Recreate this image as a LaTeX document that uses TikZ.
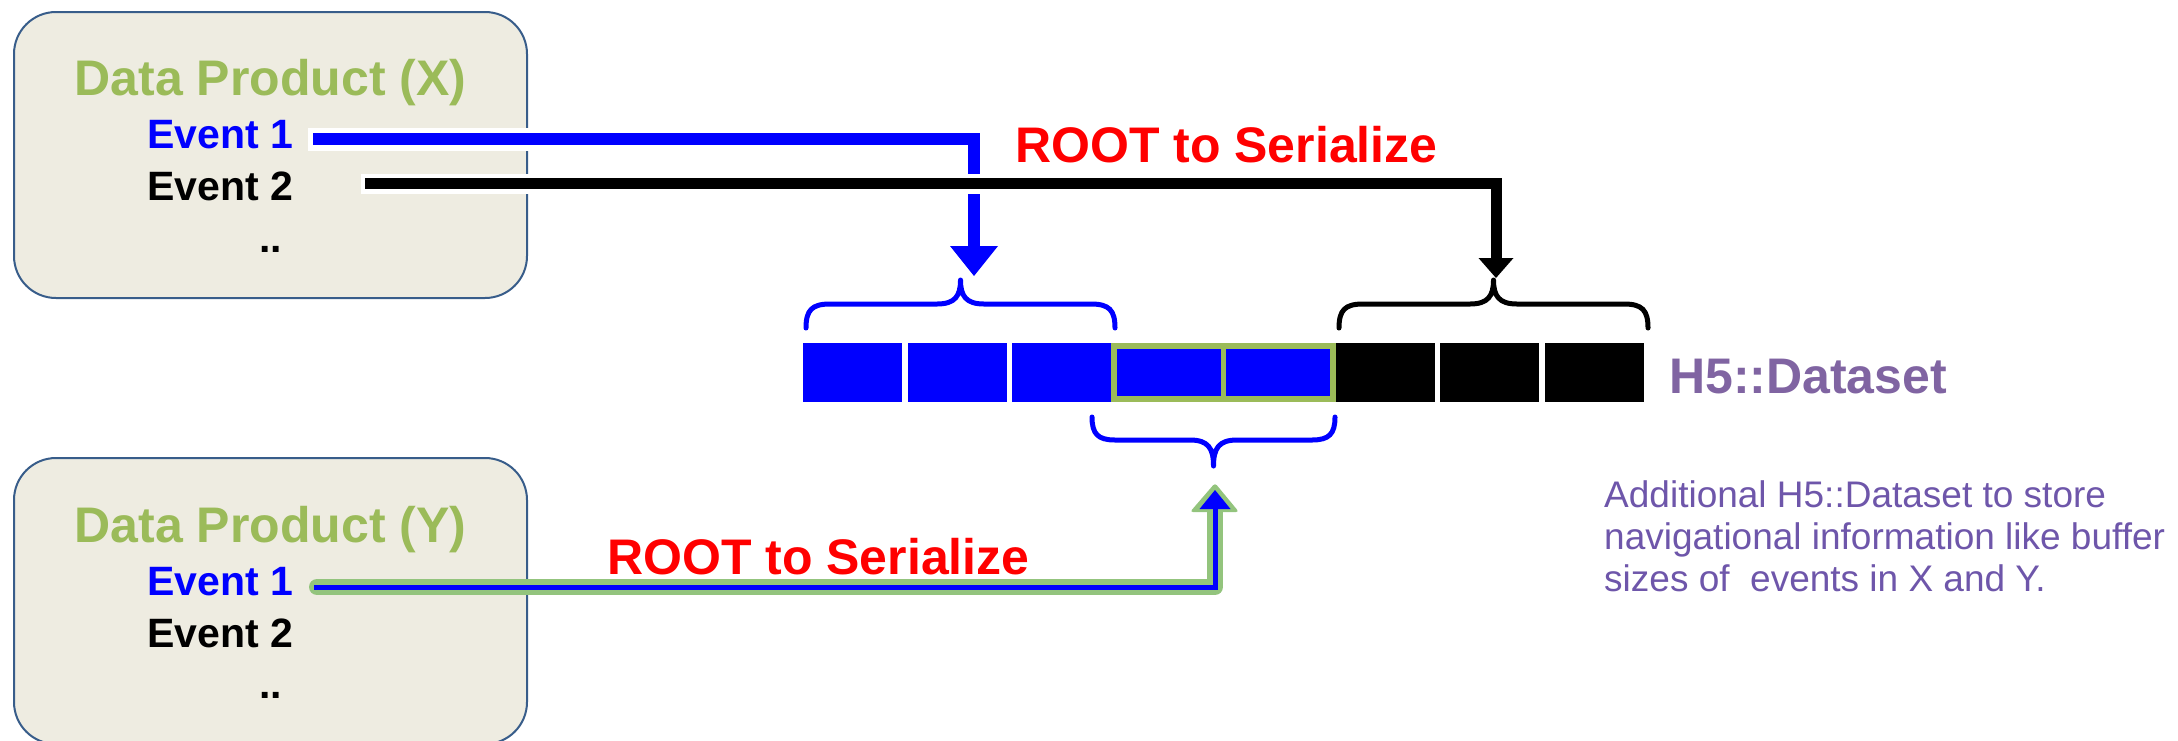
\documentclass[tikz,border=0pt]{standalone}
\usepackage{fontspec}
\setmainfont{Liberation Sans}
\usetikzlibrary{calc}

\definecolor{boxfill}{RGB}{238,236,225}
\definecolor{boxline}{RGB}{56,93,138}
\definecolor{titlegreen}{RGB}{155,187,89}
\definecolor{arrowgreen}{RGB}{147,196,125}
\definecolor{evblue}{RGB}{0,0,255}
\definecolor{rootred}{RGB}{255,0,0}
\definecolor{dsetpurple}{RGB}{128,100,162}
\definecolor{notepurple}{RGB}{110,86,170}

\tikzset{
  dpbox/.style={draw=boxline, line width=2pt, fill=boxfill, rounded corners=42pt,
    minimum width=513pt, minimum height=286pt, inner sep=0pt},
  dptitle/.style={text=titlegreen, font=\bfseries\fontsize{50}{60}\selectfont,
    inner sep=0pt, anchor=base},
  evt/.style={font=\bfseries\fontsize{41}{49}\selectfont, inner sep=0pt, anchor=base west},
  evdots/.style={font=\bfseries\fontsize{41}{49}\selectfont, inner sep=0pt, anchor=base},
  rootlbl/.style={text=rootred, font=\bfseries\fontsize{50}{60}\selectfont,
    inner sep=0pt, anchor=base west},
  dsetlbl/.style={text=dsetpurple, font=\bfseries\fontsize{50}{60}\selectfont,
    inner sep=0pt, anchor=base west},
  notelbl/.style={text=notepurple, font=\fontsize{37}{42}\selectfont,
    inner sep=0pt, anchor=base west},
  cell/.style={minimum width=99pt, minimum height=59pt, inner sep=0pt, outer sep=0pt},
  wideblock/.style={fill=titlegreen, minimum width=225pt, minimum height=59pt,
    inner sep=0pt, outer sep=0pt},
  innercell/.style={fill=evblue, minimum width=104pt, minimum height=47pt,
    inner sep=0pt, outer sep=0pt},
  casing/.style={draw=white, line join=miter, line cap=butt},
  curly/.style={line width=5pt, line cap=round, line join=round},
}

\begin{document}
\begin{tikzpicture}[x=1pt, y=-1pt]
\useasboundingbox (0,0) rectangle (2178,740);

% ---- data product boxes ----
\node[dpbox] (bx) at (270.5,155) {};
\node[dptitle] (tx) at (270.5,95) {Data Product (X)};
\node[evt, text=evblue] (ex1) at (147,148) {Event 1};
\node[evt, text=black] (ex2) at (147,200) {Event 2};
\node[evdots] (exd) at (270.5,252) {..};

\node[dpbox] (by) at (270.5,601) {};
\node[dptitle] (ty) at (270.5,542) {Data Product (Y)};
\node[evt, text=evblue] (ey1) at (147,595) {Event 1};
\node[evt, text=black] (ey2) at (147,647) {Event 2};
\node[evdots] (eyd) at (270.5,698) {..};

% ---- dataset cells ----
\node[cell, fill=evblue] (c1) at (852.5,372.5) {};
\node[cell, fill=evblue] (c2) at (957.5,372.5) {};
\node[cell, fill=evblue] (c3) at (1061.5,372.5) {};
\node[wideblock] (cg) at (1223.5,372.5) {};
\node[innercell] (cg1) at (1168.5,372.5) {};
\node[innercell] (cg2) at (1278,372.5) {};
\node[cell, fill=black] (c6) at (1385,372.5) {};
\node[cell, fill=black] (c7) at (1489.5,372.5) {};
\node[cell, fill=black] (c8) at (1594,372.5) {};

\node[dsetlbl] (dset) at (1669,393) {H5::Dataset};

% ---- braces over and under the cells ----
\coordinate (braceA) at (960.5,280);
\coordinate (braceB) at (1493.5,280);
\coordinate (braceC) at (1213.5,466);
\draw[curly, evblue] (806,328) .. controls (806,310) and (812,304) .. (830,304)
  -- (937,304) .. controls (955,304) and (960.5,296) .. (braceA)
  .. controls (960.5,296) and (966,304) .. (984,304)
  -- (1091,304) .. controls (1109,304) and (1115,310) .. (1115,328);
\draw[curly, black] (1339,328) .. controls (1339,310) and (1345,304) .. (1363,304)
  -- (1470,304) .. controls (1488,304) and (1493.5,296) .. (braceB)
  .. controls (1493.5,296) and (1499,304) .. (1517,304)
  -- (1624,304) .. controls (1642,304) and (1648,310) .. (1648,328);
\draw[curly, evblue] (1092,417) .. controls (1092,434) and (1098,440) .. (1115,440)
  -- (1190,440) .. controls (1208,440) and (1213.5,448) .. (braceC)
  .. controls (1213.5,448) and (1219,440) .. (1237,440)
  -- (1312,440) .. controls (1329,440) and (1335,434) .. (1335,417);

% ---- connector: Event 1 of X ----
\coordinate (ax1c) at (308,139);
\coordinate (ax1) at (313,139);
\coordinate (tipA) at (974,276);
\draw[casing, line width=23pt] (ax1c) -| ($(tipA)+(0,-30)$);
\draw[evblue, line width=12pt, line join=miter] (ax1) -| ($(tipA)+(0,-30)$);
\fill[evblue] (tipA) -- ++(-24,-30) -- ++(48,0) -- cycle;

% ---- connector: Event 2 of X ----
\coordinate (ax2c) at (361,183.5);
\coordinate (ax2) at (365,183.5);
\coordinate (tipB) at (1496,278);
\draw[casing, line width=20pt] (ax2c) -| ($(tipB)+(0,-20)$);
\draw[black, line width=11pt, line join=miter] (ax2) -| ($(tipB)+(0,-20)$);
\fill[black] (tipB) -- ++(-17.5,-20) -- ++(35,0) -- cycle;

\node[rootlbl] (root1) at (1015,162) {ROOT to Serialize};

% ---- connector: Event 1 of Y ----
\coordinate (ay1g) at (317,587);
\coordinate (ay1) at (314,587);
\coordinate (tipC) at (1215,483);
\draw[arrowgreen, line width=16pt, line cap=round, line join=round]
  (ay1g) -| ($(tipC)+(0,29)$);
\fill[arrowgreen, rounded corners=3pt] (tipC) -- ++(24,29) -- ++(-49,0) -- cycle;
\draw[evblue, line width=5pt] (ay1) -| ($(tipC)+(0,26)$);
\fill[evblue] ($(tipC)+(0,7)$) -- ++(15.5,19) -- ++(-31,0) -- cycle;

\node[rootlbl] (root2) at (607,574) {ROOT to Serialize};

% ---- note ----
\node[notelbl] (n1) at (1604,507) {Additional H5::Dataset to store};
\node[notelbl] (n2) at (1604,549) {navigational information like buffer};
\node[notelbl] (n3) at (1604,591) {sizes of~ events in X and Y.};
\end{tikzpicture}
\end{document}
